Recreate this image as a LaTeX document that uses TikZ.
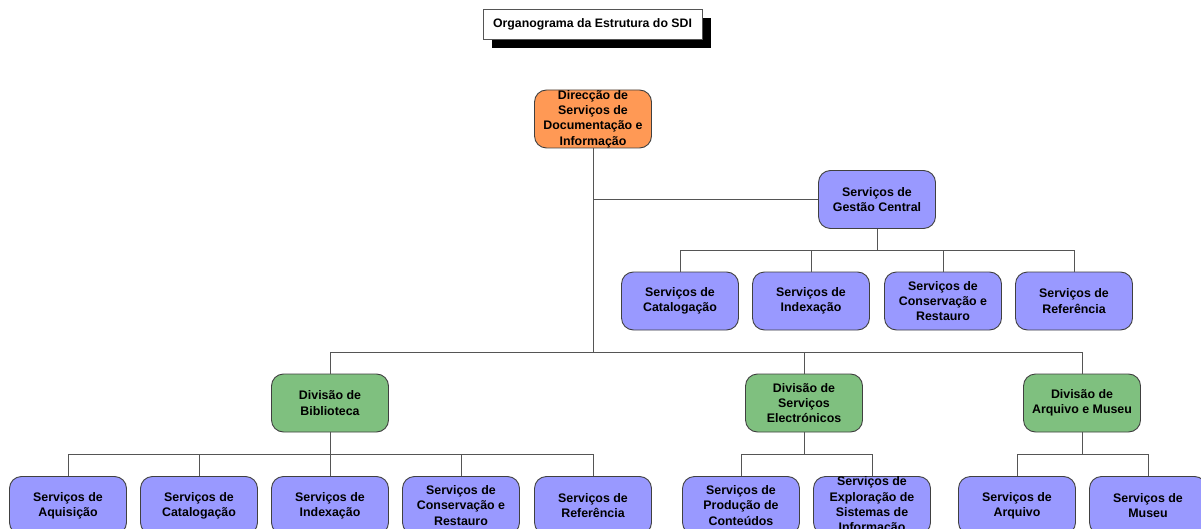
\documentclass[tikz,border=0pt]{standalone}
\usepackage{fontspec}
\setmainfont{Liberation Sans}
\usetikzlibrary{shadows}
\definecolor{dirfill}{RGB}{255,153,85}
\definecolor{svcfill}{RGB}{153,153,255}
\definecolor{divfill}{RGB}{127,192,127}
\definecolor{boxline}{RGB}{64,64,64}
\definecolor{linkline}{RGB}{85,85,85}
\tikzset{
  unit/.style={draw=boxline, line width=0.9pt, rounded corners=12pt,
    minimum width=117pt, minimum height=58pt, inner sep=0pt,
    align=center, font=\fontsize{12.4}{15.3}\selectfont\bfseries},
  direcao/.style={unit, fill=dirfill},
  servico/.style={unit, fill=svcfill},
  divisao/.style={unit, fill=divfill},
  heading/.style={draw=linkline, line width=0.8pt, fill=white,
    minimum width=219pt, minimum height=30pt, inner sep=0pt,
    font=\fontsize{12.3}{14}\selectfont\bfseries,
    drop shadow={shadow xshift=9pt, shadow yshift=-9pt, fill=black, opacity=1}},
  link/.style={draw=linkline, line width=0.9pt}
}
\begin{document}
\begin{tikzpicture}[x=1pt, y=-1pt]
\useasboundingbox (0,0) rectangle (1201,529);
\fill[white] (0,0) rectangle (1201,529);

% title
\node[heading] (title) at (592.5,24) {Organograma da Estrutura do SDI};

% bar levels
\coordinate (barG) at (0,250);
\coordinate (barD) at (0,352);
\coordinate (barS) at (0,454);

% boxes
\node[direcao] (dir) at (593,119) {Direcção de\\Serviços de\\Documentação e\\Informação};
\node[servico] (gc) at (877,199.5) {Serviços de\\Gestão Central};

\node[servico] (gcat) at (680,301) {Serviços de\\Catalogação};
\node[servico] (gind) at (811,301) {Serviços de\\Indexação};
\node[servico] (gcon) at (943,301) {Serviços de\\Conservação e\\Restauro};
\node[servico] (gref) at (1074,301) {Serviços de\\Referência};

\node[divisao] (bib) at (330,403) {Divisão de\\Biblioteca};
\node[divisao] (ele) at (804,403) {Divisão de\\Serviços\\Electrónicos};
\node[divisao] (arm) at (1082,403) {Divisão de\\Arquivo e Museu};

\node[servico] (baq) at (68,505.5) {Serviços de\\Aquisição};
\node[servico] (bcat) at (199,505.5) {Serviços de\\Catalogação};
\node[servico] (bind) at (330,505.5) {Serviços de\\Indexação};
\node[servico] (bcon) at (461,505.5) {Serviços de\\Conservação e\\Restauro};
\node[servico] (bref) at (593,505.5) {Serviços de\\Referência};

\node[servico] (epro) at (741,505.5) {Serviços de\\Produção de\\Conteúdos};
\node[servico] (eexp) at (872,505.5) {Serviços de\\Exploração de\\Sistemas de\\Informação};

\node[servico] (aarq) at (1017,505.5) {Serviços de\\Arquivo};
\node[servico] (amus) at (1148,505.5) {Serviços de\\Museu};

% direction links
\draw[link] (dir.south) -- (dir.south |- barD);
\draw[link] (dir.south |- gc.west) -- (gc.west);

% central management services
\draw[link] (gc.south) -- (gc.south |- barG);
\draw[link] (gcat.north) |- (gref.north |- barG) -- (gref.north);
\draw[link] (gind.north) -- (gind.north |- barG);
\draw[link] (gcon.north) -- (gcon.north |- barG);

% divisions
\draw[link] (bib.north) |- (arm.north |- barD) -- (arm.north);
\draw[link] (ele.north) -- (ele.north |- barD);

% library services
\draw[link] (bib.south) -- (bib.south |- barS);
\draw[link] (baq.north) |- (bref.north |- barS) -- (bref.north);
\draw[link] (bcat.north) -- (bcat.north |- barS);
\draw[link] (bind.north) -- (bind.north |- barS);
\draw[link] (bcon.north) -- (bcon.north |- barS);

% electronic services
\draw[link] (ele.south) -- (ele.south |- barS);
\draw[link] (epro.north) |- (eexp.north |- barS) -- (eexp.north);

% archive and museum services
\draw[link] (arm.south) -- (arm.south |- barS);
\draw[link] (aarq.north) |- (amus.north |- barS) -- (amus.north);
\end{tikzpicture}
\end{document}
